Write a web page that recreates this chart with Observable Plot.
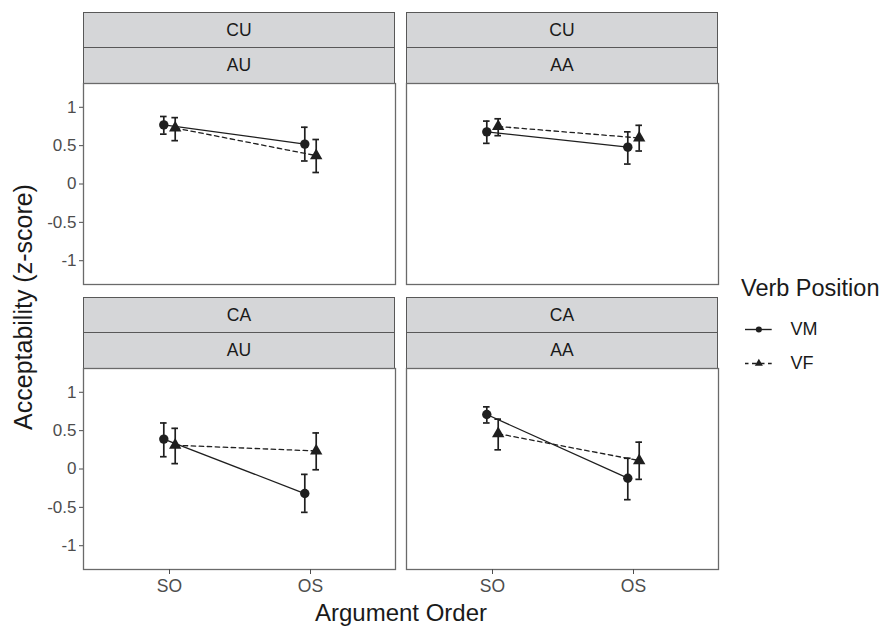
<!DOCTYPE html>
<html><head><meta charset="utf-8">
<script src="https://cdn.jsdelivr.net/npm/d3@7"></script>
<script src="https://cdn.jsdelivr.net/npm/@observablehq/plot@0.6"></script>
<style>
body{margin:0;background:#fff;font-family:"Liberation Sans",Arial,sans-serif;}
#chart{position:relative;width:887px;height:627px;overflow:hidden;}
.strip{position:absolute;background:#d5d6d8;border:1.3px solid #585858;box-sizing:border-box;display:flex;align-items:center;justify-content:center;font-size:17.5px;color:#1a1a1a;}
.abs{position:absolute;}
.title{font-size:24px;color:#1a1a1a;white-space:nowrap;line-height:1.1;}
</style></head>
<body><div id="chart"></div>
<script>
// ---- data ----
const rowLevels = ["CU", "CA"];          // top strip (rows)
const colLevels = ["AU", "AA"];          // second strip (columns)
const orders = ["SO", "OS"];             // x categories
const verbPositions = ["VM", "VF"];      // legend series
const yTicks = [-1, -0.5, 0, 0.5, 1];

const ctx   = ["CU","CU","CU","CU", "CU","CU","CU","CU", "CA","CA","CA","CA", "CA","CA","CA","CA"];
const arg   = ["AU","AU","AU","AU", "AA","AA","AA","AA", "AU","AU","AU","AU", "AA","AA","AA","AA"];
const order = ["SO","SO","OS","OS", "SO","SO","OS","OS", "SO","SO","OS","OS", "SO","SO","OS","OS"];
const verb  = ["VM","VF","VM","VF", "VM","VF","VM","VF", "VM","VF","VM","VF", "VM","VF","VM","VF"];
const mean  = [0.77, 0.73, 0.52, 0.37,  0.68, 0.75, 0.48, 0.60,  0.39, 0.31, -0.32, 0.235,  0.71, 0.46, -0.12, 0.11];
const lo    = [0.65, 0.565, 0.30, 0.15,  0.53, 0.63, 0.26, 0.43,  0.16, 0.07, -0.565, -0.01,  0.60, 0.25, -0.40, -0.135];
const hi    = [0.88, 0.865, 0.74, 0.58,  0.82, 0.85, 0.68, 0.765,  0.60, 0.53, -0.07, 0.47,  0.81, 0.65, 0.14, 0.35];

const data = ctx.map((c, i) => ({ctx: c, arg: arg[i], order: order[i], verb: verb[i], mean: mean[i], lo: lo[i], hi: hi[i]}));

// ---- layout ----
const chart = document.getElementById("chart");
const panelW = 312, panelH = 201;
const colX = [83, 406];
const rowY = [83, 368];
const stripH1 = 35, stripH2 = 36;
const ink = "#1f1f1f";
const dodge = {VM: -5.7, VF: 5.7};
const dash = {VM: null, VF: "4.5,3.5"};
const sym = {VM: "circle", VF: "triangle"};
const rad = {VM: 4.7, VF: 4.6};
const fontFamily = "Liberation Sans, Arial, sans-serif";

function addDiv(cls, text, css) {
  const d = document.createElement("div");
  d.className = cls;
  d.textContent = text;
  Object.assign(d.style, css);
  chart.appendChild(d);
  return d;
}

rowLevels.forEach((rl, ri) => {
  colLevels.forEach((cl, ci) => {
    const x0 = colX[ci], y0 = rowY[ri];
    // strips
    addDiv("strip", rl, {left: x0 + "px", top: (y0 - stripH1 - stripH2) + "px", width: panelW + "px", height: (stripH1 + 1) + "px"});
    addDiv("strip", cl, {left: x0 + "px", top: (y0 - stripH2) + "px", width: panelW + "px", height: (stripH2 + 1) + "px"});

    const showY = ci === 0, showX = ri === 1;
    const ml = showY ? 83 : 2, mt = 2, mr = 2, mb = showX ? 40 : 2;
    const rows = data.filter(d => d.ctx === rl && d.arg === cl);
    const marks = [];
    verbPositions.forEach(v => {
      const s = rows.filter(d => d.verb === v);
      const dx = dodge[v];
      marks.push(Plot.line(s, {x: "order", y: "mean", dx, stroke: ink, strokeWidth: 1.3, strokeDasharray: dash[v]}));
      marks.push(Plot.ruleX(s, {x: "order", y1: "lo", y2: "hi", dx, stroke: ink, strokeWidth: 1.7}));
      marks.push(Plot.ruleY(s, {x1: "order", x2: "order", y: "lo", dx, insetLeft: -3.3, insetRight: -3.3, stroke: ink, strokeWidth: 1.7}));
      marks.push(Plot.ruleY(s, {x1: "order", x2: "order", y: "hi", dx, insetLeft: -3.3, insetRight: -3.3, stroke: ink, strokeWidth: 1.7}));
      marks.push(Plot.dot(s, {x: "order", y: "mean", dx, symbol: sym[v], r: rad[v], fill: ink, stroke: "none"}));
    });
    marks.push(Plot.frame({stroke: "#6a6a6a", strokeWidth: 1.3}));
    if (showY) marks.push(Plot.axisY({ticks: yTicks, tickFormat: d => String(d), tickSize: 4, tickPadding: 3, fontSize: 17, color: "#4d4d4d", label: null}));
    if (showX) marks.push(Plot.axisX({tickSize: 5, tickPadding: 5, fontSize: 17.5, color: "#4d4d4d", label: null}));

    const svg = Plot.plot({
      width: ml + panelW + mr,
      height: mt + panelH + mb,
      marginLeft: ml, marginRight: mr, marginTop: mt, marginBottom: mb,
      x: {type: "point", domain: orders, padding: 0.6, axis: showX ? undefined : null},
      y: {domain: [-1.31, 1.31], axis: showY ? undefined : null},
      style: {fontFamily, background: "transparent", overflow: "visible", color: "#4d4d4d"},
      marks
    });
    svg.style.position = "absolute";
    svg.style.left = (x0 - ml) + "px";
    svg.style.top = (y0 - mt) + "px";
    chart.appendChild(svg);
  });
});

// axis titles
addDiv("abs title", "Argument Order", {left: "401px", top: "613px", transform: "translate(-50%,-50%)"});
addDiv("abs title", "Acceptability (z-score)", {left: "24px", top: "307px", transform: "translate(-50%,-50%) rotate(-90deg)", fontSize: "25px"});

// legend
addDiv("abs title", "Verb Position", {left: "741px", top: "288.5px", transform: "translateY(-50%)", fontSize: "23.5px"});
const leg = Plot.plot({
  width: 120, height: 70,
  marginLeft: 15, marginRight: 78.3, marginTop: 19, marginBottom: 16.5,
  y: {type: "point", domain: verbPositions, padding: 0, axis: null},
  style: {fontFamily, background: "transparent", overflow: "visible"},
  marks: [
    Plot.ruleY(verbPositions.filter(v => v === "VM"), {y: d => d, stroke: ink, strokeWidth: 1.4}),
    Plot.ruleY(verbPositions.filter(v => v === "VF"), {y: d => d, stroke: ink, strokeWidth: 1.4, strokeDasharray: "4.5,3.5", strokeDashoffset: 1}),
    Plot.dot(verbPositions, {y: d => d, symbol: d => sym[d], r: d => rad[d], fill: ink, stroke: "none"}),
    Plot.text(verbPositions, {y: d => d, text: d => d, frameAnchor: "right", dx: 18.3, textAnchor: "start", fontSize: 18, fill: "#1a1a1a"})
  ]
});
leg.style.position = "absolute";
leg.style.left = "730px";
leg.style.top = "310px";
chart.appendChild(leg);
</script>
</body></html>
